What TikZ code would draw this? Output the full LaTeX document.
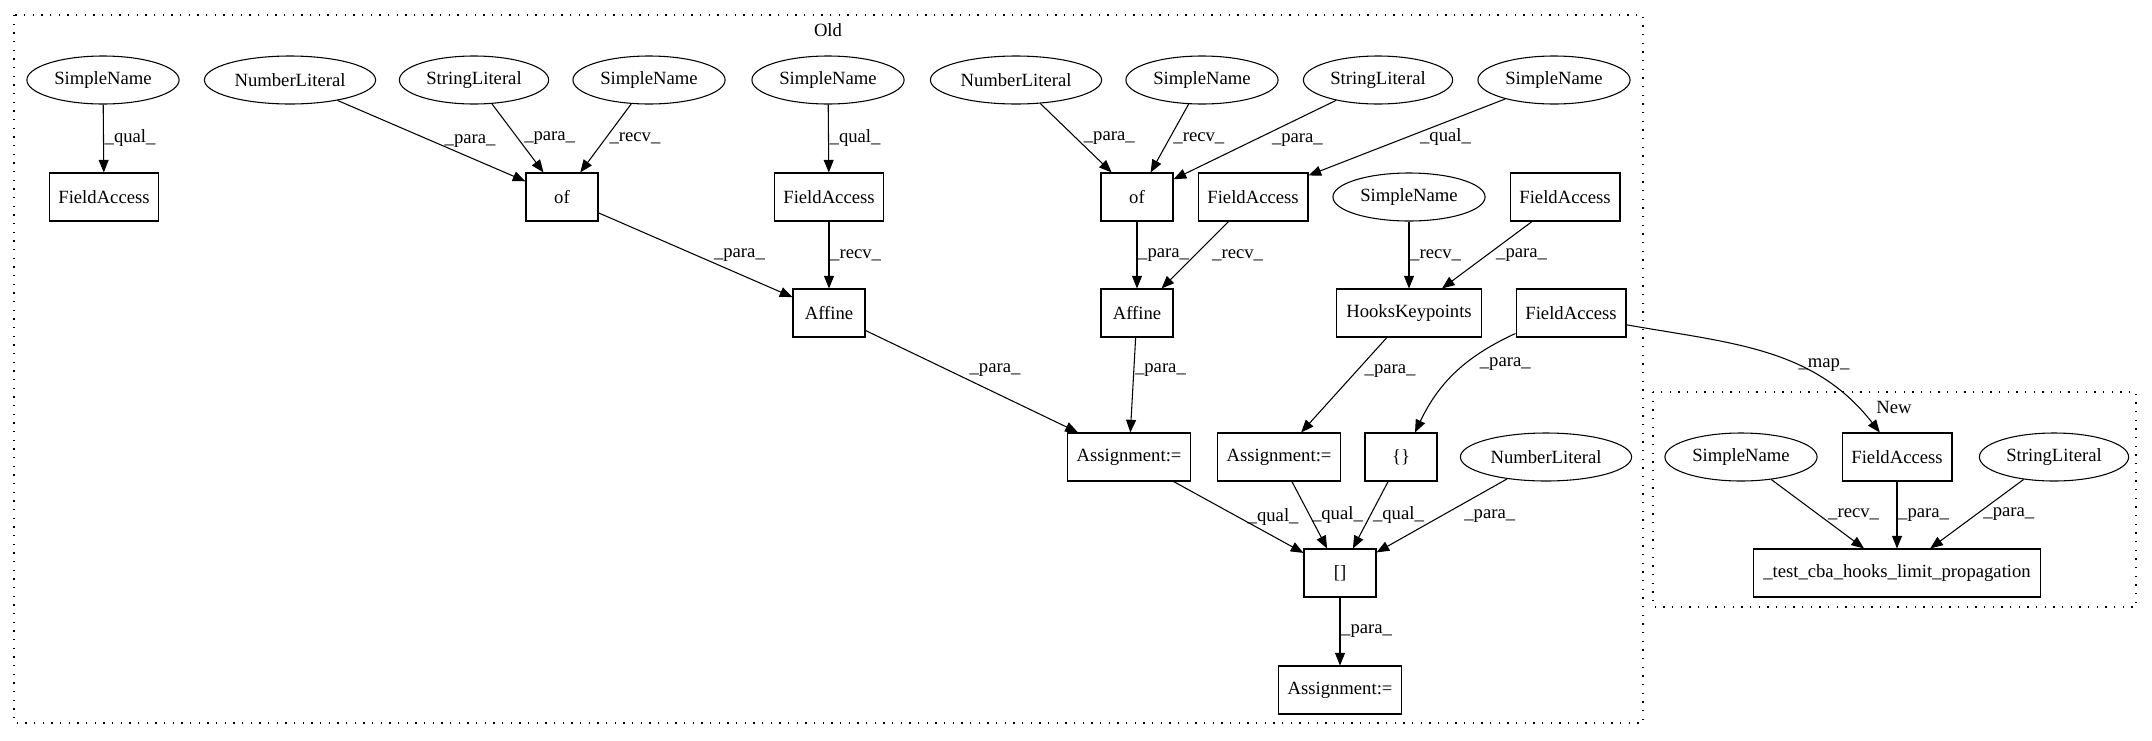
\documentclass[tikz,border=0pt]{standalone}
\usepackage{fontspec}
\setmainfont{Liberation Serif}
\usetikzlibrary{arrows.meta,positioning,shapes.geometric}

\begin{document}
\begin{tikzpicture}[
  x=0.75pt, y=-0.75pt,
  line width=0.8pt,
  >={Triangle[length=9.5pt,width=7.5pt]},
  every node/.style={font=\fontsize{14}{16}\selectfont},
  mybox/.style={
    draw,
    rectangle,
    minimum width=54pt,
    minimum height=36pt,
    inner xsep=7pt
    },
  myoval/.style={
    draw,
    ellipse,
    minimum height=36pt,
    inner xsep=3.8pt
    },
  myedge/.style={->},
  mylabel/.style={anchor=west, inner sep=0.5pt},
  mycluster/.style={draw, dash pattern=on 1pt off 5.5pt}
]
\useasboundingbox (0,0) rectangle (2152,740);

% clusters
\draw[mycluster] (14,15) rectangle (1643,723);
\node (oldlbl) at (828,30) {Old};
\draw[mycluster] (1653,392) rectangle (2136,607);
\node (newlbl) at (1894,407) {New};

% Old
\node[myoval] (sname1) at (103,80)  {SimpleName};
\node[myoval] (nlit1)  at (290,80)  {NumberLiteral};
\node[myoval] (slit1)  at (474,80)  {StringLiteral};
\node[myoval] (sname2) at (649,80)  {SimpleName};
\node[myoval] (sname3) at (828,80)  {SimpleName};
\node[myoval] (nlit2)  at (1016,80) {NumberLiteral};
\node[myoval] (sname4) at (1202,80) {SimpleName};
\node[myoval] (slit2)  at (1378,80) {StringLiteral};
\node[myoval] (sname5) at (1554,80) {SimpleName};

\node[mybox]  (facc1)  at (104,197)  {FieldAccess};
\node[mybox]  (of1)    at (562,197)  {of};
\node[mybox]  (facc2)  at (829,197)  {FieldAccess};
\node[mybox]  (of2)    at (1137,197) {of};
\node[mybox]  (facc3)  at (1253,197) {FieldAccess};
\node[myoval] (sname6) at (1409,197) {SimpleName};
\node[mybox]  (facc4)  at (1565,197) {FieldAccess};

\node[mybox] (affine1) at (829,313)  {Affine};
\node[mybox] (affine2) at (1137,313) {Affine};
\node[mybox] (hooks)   at (1409,313) {HooksKeypoints};
\node[mybox] (facc5)   at (1571,313) {FieldAccess};

\node[mybox]  (assign1) at (1129,457) {Assignment:=};
\node[mybox]  (assign2) at (1279,457) {Assignment:=};
\node[mybox]  (braces)  at (1401,457) {\{\}};
\node[myoval] (nlit3)   at (1546,457) {NumberLiteral};
\node[mybox]  (index)   at (1340,573) {[]};
\node[mybox]  (assign3) at (1340,690) {Assignment:=};

% New
\node[myoval] (sname7) at (1741,457) {SimpleName};
\node[mybox]  (facc6)  at (1897,457) {FieldAccess};
\node[myoval] (slit3)  at (2054,457) {StringLiteral};
\node[mybox]  (target) at (1897,573) {\_test\_cba\_hooks\_limit\_propagation};

\foreach \from/\to/\txt/\sh in {
  sname1/facc1/qual/0, nlit1/of1/para/9, slit1/of1/para/4, sname2/of1/recv/2,
  sname3/facc2/qual/0, of1/affine1/para/13, facc2/affine1/recv/0,
  nlit2/of2/para/5, sname4/of2/recv/2, slit2/of2/para/12, sname5/facc3/qual/9,
  of2/affine2/para/0, facc3/affine2/recv/12, sname6/hooks/recv/0, facc4/hooks/para/6,
  assign1/index/qual/6, assign2/index/qual/1, braces/index/qual/1, nlit3/index/para/16,
  index/assign3/para/0, sname7/target/recv/7, facc6/target/para/0, slit3/target/para/4}
  \draw[myedge] (\from) -- node[mylabel, midway, xshift=\sh pt] {\_\txt\_} (\to);

\draw[myedge] (affine1) -- node[mylabel, pos=0.39, xshift=15pt] {\_para\_} (assign1);
\draw[myedge] (affine2) -- node[mylabel, pos=0.34] {\_para\_} (assign1);
\draw[myedge] (hooks) -- node[mylabel, pos=0.35, xshift=5pt] {\_para\_} (assign2);
\draw[myedge] (facc5) to[bend right=20] node[mylabel, pos=0.4, xshift=10pt] {\_para\_} (braces);
\draw[myedge] (facc5.-12) to[out=-10, in=128] node[mylabel, pos=0.62] {\_map\_} (facc6.125);

\end{tikzpicture}
\end{document}
